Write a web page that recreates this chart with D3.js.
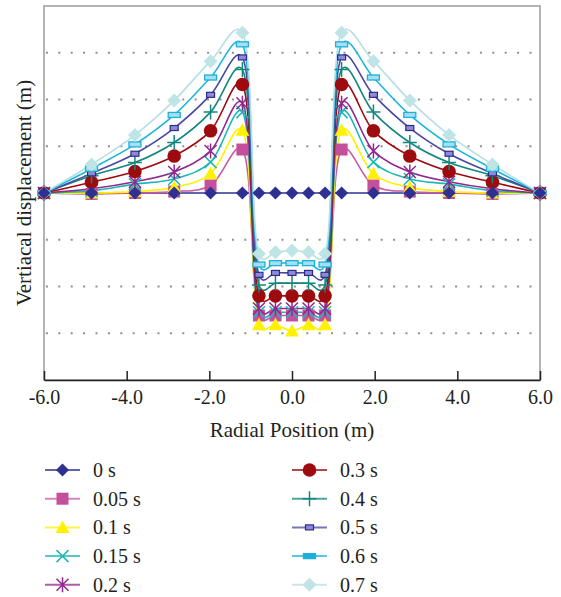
<!DOCTYPE html>
<html>
<head>
<meta charset="utf-8">
<script src="https://cdn.jsdelivr.net/npm/d3@7/dist/d3.min.js"></script>
<style>
  html, body { margin: 0; padding: 0; background: #fff; }
  svg { display: block; }
  text { font-family: "Liberation Serif", "Times New Roman", serif; fill: #231f20; }
</style>
</head>
<body>
<svg id="chart" width="561" height="597"></svg>
<script>
// ---------------- data ----------------
const radialPosition = [-6.0, -4.85, -3.8, -2.85, -1.97, -1.2, -0.8, -0.4, 0.0, 0.4, 0.8, 1.2, 1.97, 2.85, 3.8, 4.85, 6.0];

const seriesLabels = ["0 s", "0.05 s", "0.1 s", "0.15 s", "0.2 s", "0.3 s", "0.4 s", "0.5 s", "0.6 s", "0.7 s"];

const disp_0s   = [0, 0, 0, 0, 0, 0, 0, 0, 0, 0, 0, 0, 0, 0, 0, 0, 0];
const disp_005s = [0, -0.02, 0, 0.03, 0.16, 0.93, -2.62, -2.62, -2.62, -2.62, -2.62, 0.93, 0.16, 0.03, 0, -0.02, 0];
const disp_01s  = [0, 0, 0.03, 0.12, 0.41, 1.34, -2.82, -2.82, -2.95, -2.82, -2.82, 1.34, 0.41, 0.12, 0.03, 0, 0];
const disp_015s = [0, 0.05, 0.19, 0.3, 0.66, 1.73, -2.55, -2.55, -2.55, -2.55, -2.55, 1.73, 0.66, 0.3, 0.19, 0.05, 0];
const disp_02s  = [0, 0.09, 0.24, 0.45, 0.9, 1.92, -2.47, -2.47, -2.47, -2.47, -2.47, 1.92, 0.9, 0.45, 0.24, 0.09, 0];
const disp_03s  = [0, 0.23, 0.46, 0.79, 1.33, 2.32, -2.2, -2.2, -2.2, -2.2, -2.2, 2.32, 1.33, 0.79, 0.46, 0.23, 0];
const disp_04s  = [0, 0.37, 0.65, 1.08, 1.73, 2.64, -1.97, -1.93, -1.93, -1.93, -1.97, 2.64, 1.73, 1.08, 0.65, 0.37, 0];
const disp_05s  = [0, 0.42, 0.84, 1.39, 2.1, 2.9, -1.75, -1.71, -1.71, -1.71, -1.75, 2.9, 2.1, 1.39, 0.84, 0.42, 0];
const disp_06s  = [0, 0.52, 1.04, 1.67, 2.47, 3.18, -1.53, -1.5, -1.5, -1.5, -1.53, 3.18, 2.47, 1.67, 1.04, 0.52, 0];
const disp_07s  = [0, 0.61, 1.24, 1.98, 2.82, 3.43, -1.3, -1.27, -1.23, -1.27, -1.3, 3.43, 2.82, 1.98, 1.24, 0.61, 0];

const xTickValues = [-6, -4, -2, 0, 2, 4, 6];
const yGridValues = [-3, -2, -1, 1, 2, 3];

const xTitle = "Radial Position (m)";
const yTitle = "Vertiacal displacement (m)";

// ---------------- styles ----------------
const seriesValues = [disp_0s, disp_005s, disp_01s, disp_015s, disp_02s, disp_03s, disp_04s, disp_05s, disp_06s, disp_07s];
const styles = [
  { line: "#2e3192", marker: "diamond", fill: "#2e3192", stroke: "#2e3192" },
  { line: "#c75aa4", marker: "square", fill: "#c4509c", stroke: "#c4509c" },
  { line: "#fff200", marker: "triangle", fill: "#fff200", stroke: "#fff200" },
  { line: "#1db8b4", marker: "x", fill: "none", stroke: "#1db8b4" },
  { line: "#92278f", marker: "asterisk", fill: "none", stroke: "#92278f" },
  { line: "#9e0b0f", marker: "circle", fill: "#9e0b0f", stroke: "#9e0b0f" },
  { line: "#12877e", marker: "plus", fill: "none", stroke: "#12877e" },
  { line: "#4a46a3", marker: "smallrect", fill: "#8e8bd6", stroke: "#2e2a8a" },
  { line: "#1cb4e0", marker: "rect", fill: "#a5e0f2", stroke: "#1cb0dc" },
  { line: "#b6dfe3", marker: "diamondL", fill: "#bfe4e6", stroke: "#bfe4e6" }
];

// ---------------- chart ----------------
const svg = d3.select("#chart");
svg.append("rect").attr("width", 561).attr("height", 597).attr("fill", "#fff");

const x = d3.scaleLinear().domain([-6, 6]).range([44, 540]);
const y = d3.scaleLinear().domain([-4, 4]).range([380, 6]);

// grid
svg.append("g").selectAll("line").data(yGridValues).join("line")
  .attr("x1", x(-6)).attr("x2", x(6))
  .attr("y1", d => y(d)).attr("y2", d => y(d))
  .attr("stroke", "#8f8f8f").attr("stroke-width", 2)
  .attr("stroke-dasharray", "2 10.4").attr("stroke-dashoffset", 10.5);

// frame
svg.append("rect")
  .attr("x", x(-6)).attr("y", y(4))
  .attr("width", x(6) - x(-6)).attr("height", y(-4) - y(4))
  .attr("fill", "none").attr("stroke", "#9a9a9a").attr("stroke-width", 1.5);

// x axis
const fmt = d => d3.format(".1f")(d).replace("\u2212", "-");
const xAxis = svg.append("g").attr("transform", `translate(0,${y(-4)})`)
  .call(d3.axisBottom(x).tickValues(xTickValues).tickFormat(fmt).tickSizeInner(-9).tickSizeOuter(0).tickPadding(10));
xAxis.select(".domain").attr("stroke", "#231f20").attr("stroke-width", 1.5);
xAxis.selectAll(".tick line").attr("stroke", "#231f20").attr("stroke-width", 1.5);
xAxis.selectAll(".tick text").attr("font-size", 20).attr("font-family", "Liberation Serif").attr("fill", "#231f20");

// titles
svg.append("text").attr("x", x(0)).attr("y", 437).attr("text-anchor", "middle")
  .attr("font-size", 21).text(xTitle);
svg.append("text").attr("transform", `translate(31,${y(0)}) rotate(-90)`).attr("text-anchor", "middle")
  .attr("font-size", 21).text(yTitle);

// markers
function drawMarker(g, type, fill, stroke, legend) {
  switch (type) {
    case "diamond":
      g.append("path").attr("d", "M0,-6.5L6.5,0L0,6.5L-6.5,0Z").attr("fill", fill); break;
    case "diamondL":
      g.append("path").attr("d", "M0,-7L7,0L0,7L-7,0Z").attr("fill", fill); break;
    case "square":
      g.append("rect").attr("x", -6).attr("y", -6).attr("width", 12).attr("height", 12).attr("fill", fill); break;
    case "triangle":
      g.append("path").attr("d", "M0,-7L7,5.5L-7,5.5Z").attr("fill", fill); break;
    case "circle":
      g.append("circle").attr("r", 6.8).attr("fill", fill); break;
    case "x":
      g.append("path").attr("d", "M-6,-6L6,6M-6,6L6,-6").attr("stroke", stroke).attr("stroke-width", 1.5).attr("fill", "none"); break;
    case "asterisk":
      g.append("path").attr("d", "M-6,-6L6,6M-6,6L6,-6M0,-7.5L0,7.5").attr("stroke", stroke).attr("stroke-width", 1.5).attr("fill", "none"); break;
    case "plus":
      g.append("path").attr("d", "M-7,0L7,0M0,-7.5L0,7.5").attr("stroke", stroke).attr("stroke-width", 1.5).attr("fill", "none"); break;
    case "smallrect":
      g.append("rect").attr("x", -4).attr("y", -2.5).attr("width", 8).attr("height", 5)
        .attr("fill", fill).attr("stroke", stroke).attr("stroke-width", 1.2); break;
    case "rect":
      g.append("rect").attr("x", -6).attr("y", -2.5).attr("width", 12).attr("height", 5)
        .attr("fill", legend ? stroke : fill).attr("stroke", stroke).attr("stroke-width", 1.3); break;
  }
}

const lineGen = d3.line()
  .x((d, i) => x(radialPosition[i]))
  .y(d => y(d))
  .curve(d3.curveCatmullRom.alpha(0.25));

const linesG = svg.append("g");
seriesValues.forEach((vals, s) => {
  linesG.append("path").datum(vals)
    .attr("d", lineGen)
    .attr("fill", "none")
    .attr("stroke", styles[s].line)
    .attr("stroke-width", 1.6);
});

// markers: series in order, the 0 s series kept on top
const markOrder = d3.range(1, seriesValues.length).concat([0]);
const markG = svg.append("g");
markOrder.forEach(s => {
  seriesValues[s].forEach((v, i) => {
    const g = markG.append("g").attr("transform", `translate(${x(radialPosition[i])},${y(v)})`);
    drawMarker(g, styles[s].marker, styles[s].fill, styles[s].stroke, false);
  });
});

// legend
const legend = svg.append("g");
seriesLabels.forEach((lab, s) => {
  const col = s < 5 ? 0 : 1;
  const row = s % 5;
  const lx = col === 0 ? 45 : 292;
  const ly = 470 + row * 28.7;
  const g = legend.append("g").attr("transform", `translate(${lx},${ly})`);
  g.append("line").attr("x1", 0).attr("x2", 35).attr("y1", 0).attr("y2", 0)
    .attr("stroke", styles[s].line).attr("stroke-width", 2).attr("stroke-opacity", 0.75);
  const mg = g.append("g").attr("transform", "translate(17.5,0)");
  drawMarker(mg, styles[s].marker, styles[s].fill, styles[s].stroke, true);
  g.append("text").attr("x", 48).attr("y", 7).attr("font-size", 20).text(lab);
});
</script>
</body>
</html>
